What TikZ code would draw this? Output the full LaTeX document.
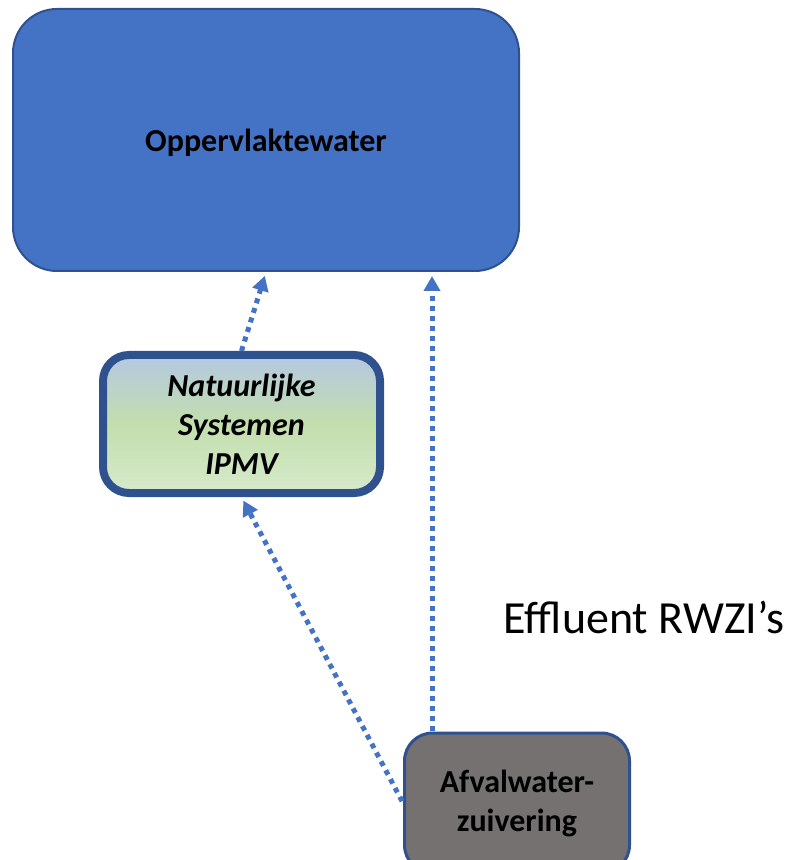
\documentclass[tikz,border=0pt]{standalone}
\usepackage{fontspec}
\setmainfont{Carlito}
\usetikzlibrary{arrows.meta}

\definecolor{waterblue}{HTML}{4472C4}
\definecolor{edgeblue}{HTML}{2F528F}
\definecolor{rwzigray}{HTML}{767171}
\definecolor{natblue}{HTML}{B4C8E2}
\definecolor{natgreen}{HTML}{C3DEAD}
\definecolor{natlight}{HTML}{D6EACB}

\tikzset{
  flow/.style={draw=waterblue, line width=2.5pt, dash pattern=on 2.5pt off 2.5pt,
    -{Triangle[width=8pt,length=7.5pt]}, shorten >=2pt},
  boxtext/.style={font=\fontsize{16}{19.5}\selectfont\bfseries, align=center}
}

\begin{document}
\begin{tikzpicture}[x=0.5pt,y=-0.5pt]

      \useasboundingbox (0,0) rectangle (795,860);

      % Boxes
      \node[boxtext, draw=edgeblue, line width=1pt, fill=waterblue, rounded corners=22pt,
        minimum width=253pt, minimum height=131pt, text depth=0pt] (water) at (266,140) {Oppervlaktewater};
      \node[boxtext, font=\fontsize{16}{19.5}\selectfont\bfseries\itshape,
        draw=edgeblue, line width=4pt, top color=natblue, bottom color=natlight, middle color=natgreen,
        rounded corners=13pt, minimum width=138.5pt, minimum height=69pt] (nat) at (241.5,424)
        {Natuurlijke\\Systemen\\IPMV};
      \node[boxtext, draw=edgeblue, line width=1.5pt, fill=rwzigray, rounded corners=14pt,
        minimum width=112.5pt, minimum height=70pt] (rwzi) at (517,803) {Afvalwater-\\zuivering};

      % Label
      \node[font=\fontsize{23}{27}\selectfont] (effl) at (644,617) {Effluent RWZI’s};

      % Flows
      \coordinate (out) at (432,731);
      \draw[flow] (nat.north) -- (water.south);
      \draw[flow] (out) -- (out |- water.south);
      \draw[flow, shorten <=1pt] (rwzi.west) -- (nat.south);

\end{tikzpicture}
\end{document}
